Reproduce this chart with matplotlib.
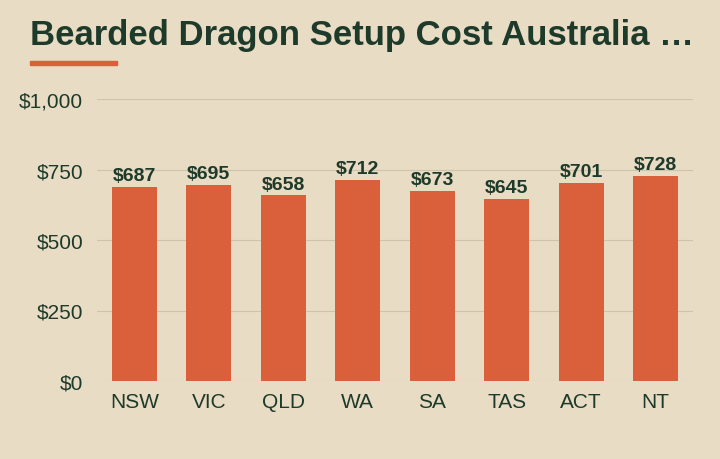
import matplotlib
matplotlib.use("Agg")
import matplotlib.pyplot as plt
from matplotlib.patches import Rectangle

states = ["NSW", "VIC", "QLD", "WA", "SA", "TAS", "ACT", "NT"]
costs = [687, 695, 658, 712, 673, 645, 701, 728]
yticks = [0, 250, 500, 750, 1000]
ytick_labels = ["$0", "$250", "$500", "$750", "$1,000"]

bg = "#e8dcc4"
bar_c = "#d9603b"
dark = "#1e3a2a"

fig = plt.figure(figsize=(7.2, 4.6), dpi=100, facecolor=bg)
ax = fig.add_axes([97/720, 78/460, 596/720, 282/460], facecolor=bg)
x = range(len(states))
ax.bar(x, costs, width=0.6, color=bar_c, zorder=3)
for i, v in zip(x, costs):
    ax.text(i, v + 10, f"${v}", ha="center", va="bottom", fontsize=14,
            fontweight="bold", color=dark, family="Liberation Sans")
ax.set_xlim(-0.5, 7.5)
ax.set_ylim(0, 1000)
ax.set_yticks(yticks)
ax.set_yticklabels(ytick_labels)
ax.set_xticks(list(x))
ax.set_xticklabels(states)
for lab in ax.get_xticklabels() + ax.get_yticklabels():
    lab.set_fontsize(15)
    lab.set_color(dark)
    lab.set_family("Liberation Sans")
ax.tick_params(axis="y", length=0, pad=10)
ax.tick_params(axis="x", length=0, pad=8)
ax.grid(axis="y", color="#cfc3aa", linewidth=0.8, zorder=0)
for s in ax.spines.values():
    s.set_visible(False)

fig.text(30/720, 1 - 36/460, "Bearded Dragon Setup Cost Australia …", fontsize=25,
         fontweight="bold", color=dark, va="center", ha="left", family="Liberation Sans")
fig.add_artist(Rectangle((30/720, 1 - 66/460), 87/720, 4/460, color=bar_c,
                         transform=fig.transFigure))
fig.savefig("out.png", dpi=100, facecolor=bg)
